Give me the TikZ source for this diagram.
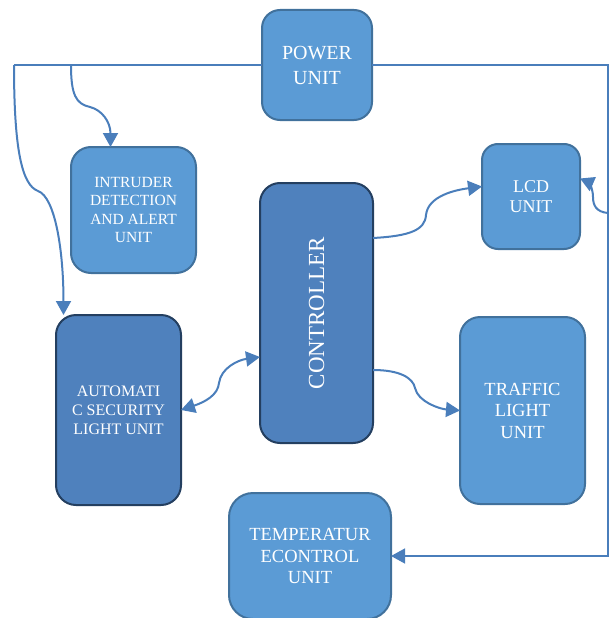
\documentclass[tikz,border=0pt]{standalone}
\usepackage{fontspec}
\setmainfont{Liberation Serif}
\usetikzlibrary{arrows.meta}
\definecolor{lightfill}{HTML}{5B9BD5}
\definecolor{lightline}{HTML}{41719C}
\definecolor{darkfill}{HTML}{4F81BD}
\definecolor{darkline}{HTML}{243F60}
\definecolor{wirecol}{HTML}{4A7EBB}
\begin{document}
\begin{tikzpicture}[x=1pt,y=-1pt,
  box/.style={draw=lightline, fill=lightfill, line width=2pt, text=white, align=center,
    inner sep=0pt, outer sep=0pt, rectangle},
  darkbox/.style={box, draw=darkline, fill=darkfill},
  wire/.style={draw=wirecol, line width=2pt},
  bus/.style={draw=wirecol, line width=1.4pt},
  tipend/.style={-{Triangle[length=14pt,width=15pt]}},
  tipboth/.style={{Triangle[length=14pt,width=15pt]}-{Triangle[length=14pt,width=15pt]}}]
\useasboundingbox (0,0) rectangle (611,618);

\node[box, minimum width=110, minimum height=110, rounded corners=18,
  font=\fontsize{20}{25}\selectfont] (pwr) at (317,65) {POWER\\UNIT};
\node[box, minimum width=125, minimum height=126, rounded corners=20,
  font=\fontsize{15.5}{18.3}\selectfont] (intr) at (133.5,210) {INTRUDER\\DETECTION\\AND ALERT\\UNIT};
\node[box, minimum width=98, minimum height=105, rounded corners=16,
  font=\fontsize{18}{20.5}\selectfont] (lcd) at (531,196.5) {LCD\\UNIT};
\node[darkbox, minimum width=113, minimum height=260, rounded corners=20,
  label={[rotate=90, text=white, font=\fontsize{23}{27}\selectfont]center:CONTROLLER}] (ctrl) at (316.5,313) {};
\node[darkbox, minimum width=125, minimum height=190, rounded corners=20,
  font=\fontsize{16}{19}\selectfont] (auto) at (118.5,410) {AUTOMATI\\C SECURITY\\LIGHT UNIT};
\node[box, minimum width=125, minimum height=187, rounded corners=20,
  font=\fontsize{18.5}{21.5}\selectfont] (traf) at (522.5,410.5) {TRAFFIC\\LIGHT\\UNIT};
\node[box, minimum width=162, minimum height=126, rounded corners=24,
  font=\fontsize{18.5}{21.5}\selectfont] (temp) at (310,556) {TEMPERATUR\\ECONTROL\\UNIT};

\coordinate (busL) at (14,65);
\coordinate (tapI) at (71,65);
\coordinate (busR) at (608,300);
\coordinate (lcdtap) at (608,213);

% power bus
\draw[bus] (pwr.west) -- (busL);
\draw[bus, tipend] (pwr.east) -| (busR) |- (temp.east);
\draw[wire, tipend] (tapI) .. controls (71,95) and (76,104) .. (90,107)
  .. controls (102,110) and (110.5,122) .. ([xshift=-23pt]intr.north);
\draw[wire, tipend] (busL) .. controls (14,150) and (22,185) .. (38,191)
  .. controls (55,197) and (63.5,250) .. ([xshift=-55pt]auto.north);
\draw[wire, tipend] (lcdtap) .. controls (596,212) and (593,205) .. (593,197)
  .. controls (593,188) and (588,182) .. ([yshift=18pt]lcd.east);

% controller links
\draw[wire, tipend] ([yshift=75pt]ctrl.east) .. controls (410,236) and (425,230) .. (426,215)
  .. controls (428,196) and (455,190) .. ([yshift=10pt]lcd.west);
\draw[wire, tipend] ([yshift=-57pt]ctrl.east) .. controls (400,370) and (413,378) .. (415,388)
  .. controls (418,402) and (440,409) .. (traf.west);
\draw[wire, tipboth] (auto.east) .. controls (205,402) and (218,395) .. (219,383)
  .. controls (221,368) and (238,360) .. ([yshift=-44pt]ctrl.west);
\end{tikzpicture}
\end{document}
